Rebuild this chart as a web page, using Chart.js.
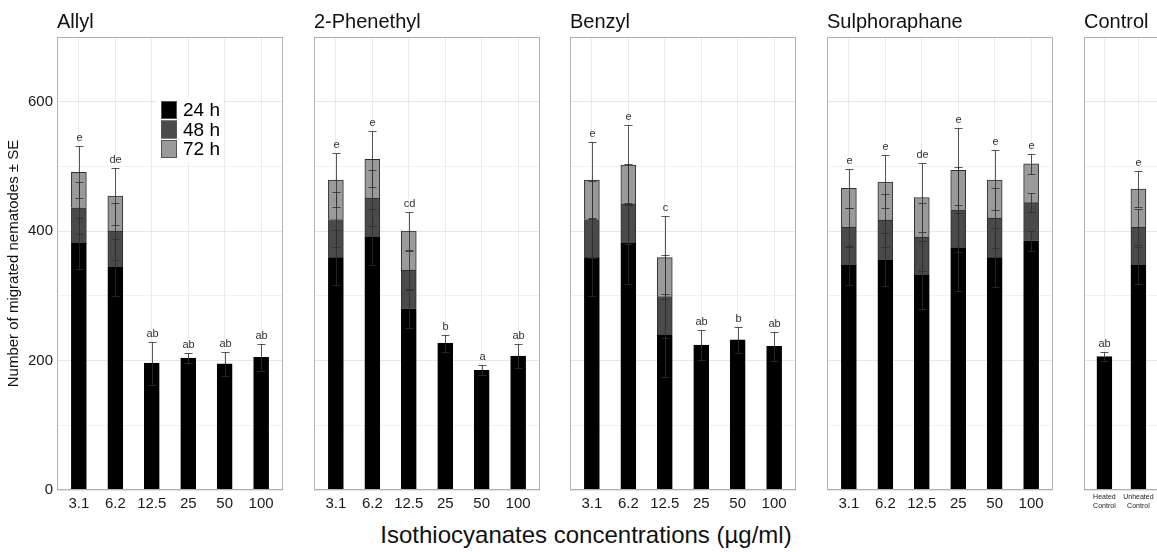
<!DOCTYPE html>
<html>
<head>
<meta charset="utf-8">
<script src="https://cdn.jsdelivr.net/npm/chart.js@4.4.1/dist/chart.umd.min.js"></script>
<style>
  html, body { margin: 0; padding: 0; background: #fff; }
  #wrap { position: relative; width: 1157px; height: 552px; overflow: hidden; font-family: "Liberation Sans", Arial, sans-serif; }
  #wrap canvas { position: absolute; top: 0; }
  #xtitle { position: absolute; top: 521px; left: 586px; transform: translateX(-50%); white-space: nowrap; font-size: 24px; line-height: 28px; color: #111; }
</style>
</head>
<body>
<div id="wrap">
  <canvas id="allyl" width="285" height="520" style="left:0px"></canvas>
  <canvas id="phenethyl" width="228" height="520" style="left:314px"></canvas>
  <canvas id="benzyl" width="228" height="520" style="left:570px"></canvas>
  <canvas id="sulph" width="228" height="520" style="left:827px"></canvas>
  <canvas id="control" width="104" height="520" style="left:1084px"></canvas>
  <div id="xtitle">Isothiocyanates concentrations (µg/ml)</div>
</div>
<script>
// concentrations (µg/ml) and control groups
var concLabels = ["3.1", "6.2", "12.5", "25", "50", "100"];
var controlLabels = [["Heated", "Control"], ["Unheated", "Control"]];

// migrated nematodes per interval (24 h, then extra at 48 h and 72 h), SE, letters
var allyl24 = [381, 344, 196, 204, 195, 205];
var allyl48 = [55, 56, 0, 0, 0, 0];
var allyl72 = [55, 54, 0, 0, 0, 0];
var allylSE = [40, 44, 33, 8, 19, 21];
var allylLetters = ["e", "de", "ab", "ab", "ab", "ab"];

var phen24 = [359, 391, 280, 227, 185, 207];
var phen48 = [59, 60, 60, 0, 0, 0];
var phen72 = [61, 60, 60, 0, 0, 0];
var phenSE = [42, 43, 29, 13, 8, 18];
var phenLetters = ["e", "e", "cd", "b", "a", "ab"];

var benz24 = [359, 381, 239, 224, 232, 222];
var benz48 = [59, 61, 60, 0, 0, 0];
var benz72 = [61, 60, 60, 0, 0, 0];
var benzSE = [59, 62, 64, 23, 20, 22];
var benzLetters = ["e", "e", "c", "ab", "b", "ab"];

var sulph24 = [347, 356, 332, 374, 359, 385];
var sulph48 = [59, 61, 59, 59, 61, 59];
var sulph72 = [60, 59, 61, 61, 59, 60];
var sulphSE = [30, 41, 53, 66, 46, 15];
var sulphLetters = ["e", "e", "de", "e", "e", "e"];

var ctrl24 = [206, 347];
var ctrl48 = [0, 59];
var ctrl72 = [0, 59];
var ctrlSE = [7, 28];
var ctrlLetters = ["ab", "e"];

var timeNames = ["24 h", "48 h", "72 h"];
var timeColors = ["#000000", "#4a4a4a", "#9a9a9a"];

Chart.defaults.font.family = '"Liberation Sans", Arial, sans-serif';

// error bars on every segment top, letters above the stack
var errorBars = {
  id: "errorBars",
  afterDatasetsDraw: function (chart, args, opts) {
    var ctx = chart.ctx;
    var x = chart.scales.x, y = chart.scales.y;
    ctx.save();
    ctx.lineWidth = 1;
    ctx.strokeStyle = "rgba(45,45,45,0.8)";
    for (var i = 0; i < opts.se.length; i++) {
      var cx = Math.round(x.getPixelForValue(i)) + 0.5;
      var sum = 0;
      chart.data.datasets.forEach(function (ds) {
        var v = ds.data[i].y;
        if (!v) return;
        sum += v;
        var y1 = Math.round(y.getPixelForValue(sum + opts.se[i])) + 0.5;
        var y2 = Math.round(y.getPixelForValue(sum - opts.se[i])) + 0.5;
        ctx.beginPath();
        ctx.moveTo(cx, y1); ctx.lineTo(cx, y2);
        ctx.moveTo(cx - 4, y1); ctx.lineTo(cx + 4, y1);
        ctx.moveTo(cx - 4, y2); ctx.lineTo(cx + 4, y2);
        ctx.stroke();
      });
      ctx.fillStyle = "#333";
      ctx.font = '11px "Liberation Sans", Arial, sans-serif';
      ctx.textAlign = "center";
      ctx.textBaseline = "alphabetic";
      ctx.fillText(opts.letters[i], cx, y.getPixelForValue(sum + opts.se[i]) - 5);
    }
    ctx.restore();
  }
};

// panel frame and strip title
var panelFrame = {
  id: "panelFrame",
  afterDraw: function (chart, args, opts) {
    var a = chart.chartArea, ctx = chart.ctx;
    ctx.save();
    ctx.strokeStyle = "#b0b0b0";
    ctx.lineWidth = 1;
    ctx.strokeRect(a.left + 0.5, a.top + 0.5, a.right - a.left - 1, a.bottom - a.top - 1);
    ctx.fillStyle = "#111";
    ctx.font = '20px "Liberation Sans", Arial, sans-serif';
    ctx.textAlign = "left";
    ctx.textBaseline = "alphabetic";
    ctx.fillText(opts.title, a.left, 28);
    ctx.restore();
  }
};

// time legend inside the first panel
var timeLegend = {
  id: "timeLegend",
  afterDraw: function (chart, args, opts) {
    if (!opts.show) return;
    var ctx = chart.ctx, a = chart.chartArea;
    var lx = a.left + 99, ly = a.top + 60;
    ctx.save();
    ctx.fillStyle = "#fff";
    ctx.fillRect(lx, ly, 67, 66);
    ctx.font = '19px "Liberation Sans", Arial, sans-serif';
    ctx.textBaseline = "middle";
    ctx.textAlign = "left";
    for (var k = 0; k < timeNames.length; k++) {
      var ky = ly + 4 + k * 19.5;
      ctx.fillStyle = timeColors[k];
      ctx.fillRect(lx + 5, ky, 16, 18);
      ctx.strokeStyle = "#555";
      ctx.strokeRect(lx + 5.5, ky + 0.5, 15, 17);
      ctx.fillStyle = "#000";
      ctx.fillText(timeNames[k], lx + 27, ky + 10);
    }
    ctx.restore();
  }
};

// xMax: right end of the band axis (the control strip runs past the page edge)
function makePanel(id, title, labels, s24, s48, s72, se, letters, first, xMax) {
  var series = [s24, s48, s72];
  var datasets = series.map(function (arr, k) {
    return {
      label: timeNames[k],
      data: arr.map(function (v, i) { return { x: i, y: v }; }),
      backgroundColor: timeColors[k],
      borderColor: k === 0 ? "#000" : "#2e2e2e",
      borderWidth: 1,
      barThickness: 15
    };
  });
  var small = labels.length === 2;
  return new Chart(document.getElementById(id), {
    type: "bar",
    data: { datasets: datasets },
    plugins: [errorBars, panelFrame, timeLegend],
    options: {
      responsive: false,
      animation: false,
      layout: { padding: { top: 37, right: 2, left: 0, bottom: 0 } },
      plugins: {
        legend: { display: false },
        tooltip: { enabled: false },
        errorBars: { se: se, letters: letters },
        panelFrame: { title: title },
        timeLegend: { show: first }
      },
      scales: {
        x: {
          type: "linear",
          stacked: true,
          offset: false,
          min: -0.6,
          max: xMax,
          afterBuildTicks: function (s) {
            s.ticks = labels.map(function (l, i) { return { value: i }; });
          },
          afterFit: function (s) { s.height = 30; },
          ticks: {
            autoSkip: false,
            maxRotation: 0,
            padding: small ? 3 : 5,
            color: "#1a1a1a",
            font: small ? { size: 7, lineHeight: 1.2 } : { size: 15 },
            callback: function (v, i) { return labels[i]; }
          },
          grid: { color: "#ebebeb", drawTicks: false, offset: false },
          border: { display: false }
        },
        y: {
          stacked: true,
          min: 0,
          max: 700,
          afterFit: function (s) { s.width = first ? 57 : 0; },
          ticks: {
            display: first,
            stepSize: 100,
            padding: 4,
            color: "#1a1a1a",
            font: { size: 15 },
            callback: function (v) { return (v % 200 === 0 && v < 700) ? v : ""; }
          },
          grid: {
            drawTicks: false,
            color: function (c) { return c.tick && c.tick.value % 200 === 0 ? "#e6e6e6" : "#f1f1f1"; }
          },
          border: { display: false },
          title: {
            display: first,
            text: "Number of migrated nematodes ± SE",
            color: "#111",
            font: { size: 15 },
            padding: { top: 5, bottom: 0 }
          }
        }
      }
    }
  });
}

makePanel("allyl", "Allyl", concLabels, allyl24, allyl48, allyl72, allylSE, allylLetters, true, 5.6);
makePanel("phenethyl", "2-Phenethyl", concLabels, phen24, phen48, phen72, phenSE, phenLetters, false, 5.6);
makePanel("benzyl", "Benzyl", concLabels, benz24, benz48, benz72, benzSE, benzLetters, false, 5.6);
makePanel("sulph", "Sulphoraphane", concLabels, sulph24, sulph48, sulph72, sulphSE, sulphLetters, false, 5.6);
makePanel("control", "Control", controlLabels, ctrl24, ctrl48, ctrl72, ctrlSE, ctrlLetters, false, 2.4);
</script>
</body>
</html>
